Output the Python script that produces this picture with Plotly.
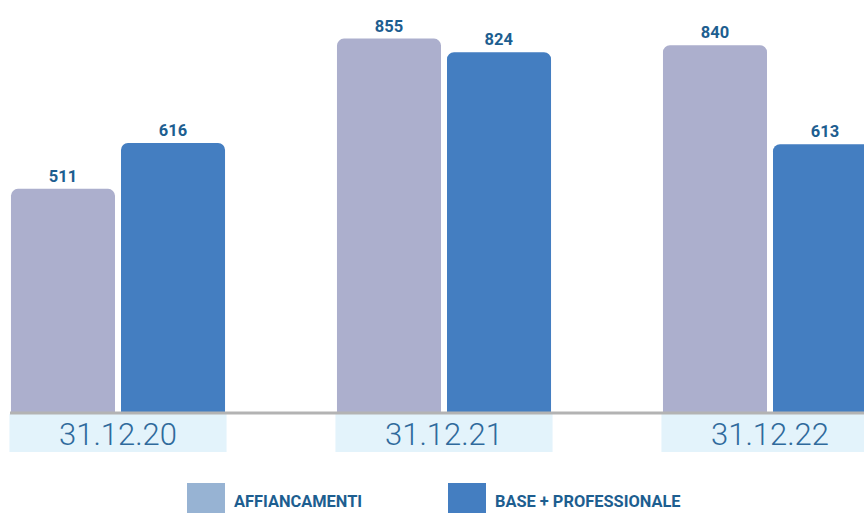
import plotly.graph_objects as go

categories = ["31.12.20", "31.12.21", "31.12.22"]
series_names = ["AFFIANCAMENTI", "BASE + PROFESSIONALE"]
affiancamenti = [511, 855, 840]
base_prof = [616, 824, 613]

bar_colors = ["#acafcd", "#447ec1"]
legend_colors = ["#97b3d3", "#447ec1"]
label_color = "#1d5e90"

W, H = 864, 514
PLOT_H = 412
xs = list(range(len(categories)))

fig = go.Figure()
for name, vals, col in zip(series_names, [affiancamenti, base_prof], bar_colors):
    fig.add_trace(go.Bar(
        x=xs, y=vals, name=name,
        marker=dict(color=col, cornerradius=7, line=dict(width=0)),
        text=[str(v) for v in vals], textposition="outside",
        textfont=dict(family="Roboto", size=16.5, color=label_color, weight="bold"),
        cliponaxis=False, showlegend=False,
    ))

shapes = []
annotations = []
# category boxes and labels
for i, c in enumerate(categories):
    shapes.append(dict(type="rect", xref="x", yref="paper",
                       x0=i - 0.333, x1=i + 0.333,
                       y0=(PLOT_H - 414) / PLOT_H, y1=(PLOT_H - 452) / PLOT_H,
                       fillcolor="#e3f3fb", line=dict(width=0), layer="below"))
    annotations.append(dict(xref="x", yref="paper", x=i, y=(PLOT_H - 434) / PLOT_H,
                            text=c, showarrow=False, xanchor="center", yanchor="middle",
                            font=dict(family="Roboto", size=31, color="#2f6a9c", weight=300)))
# baseline
shapes.append(dict(type="line", xref="paper", yref="paper",
                   x0=10 / W, x1=1, y0=(PLOT_H - 413) / PLOT_H, y1=(PLOT_H - 413) / PLOT_H,
                   line=dict(color="#b3b3b3", width=3)))
# legend
leg_x = [187, 448]
for name, col, lx in zip(series_names, legend_colors, leg_x):
    shapes.append(dict(type="rect", xref="paper", yref="paper",
                       x0=lx / W, x1=(lx + 38) / W,
                       y0=(PLOT_H - 483) / PLOT_H, y1=(PLOT_H - 513) / PLOT_H,
                       fillcolor=col, line=dict(width=0)))
    annotations.append(dict(xref="paper", yref="paper", x=(lx + 45) / W,
                            y=(PLOT_H - 502) / PLOT_H, text=name, showarrow=False,
                            xanchor="left", yanchor="middle",
                            font=dict(family="Roboto", size=16.4, color=label_color, weight="bold")))

fig.update_layout(
    width=W, height=H,
    margin=dict(l=0, r=0, t=0, b=H - PLOT_H, pad=0),
    paper_bgcolor="white", plot_bgcolor="white",
    barmode="group", bargap=0.325, bargroupgap=0.0545,
    xaxis=dict(range=[-118 / 326, (W - 118) / 326], showticklabels=False,
               showgrid=False, zeroline=False, showline=False, fixedrange=True),
    yaxis=dict(range=[0, PLOT_H / 0.4367], showticklabels=False,
               showgrid=False, zeroline=False, showline=False, fixedrange=True),
    shapes=shapes, annotations=annotations,
)

fig.write_html("out.html", config={"displayModeBar": False},
               post_script="document.body.style.margin='0';document.body.style.overflow='hidden';")
